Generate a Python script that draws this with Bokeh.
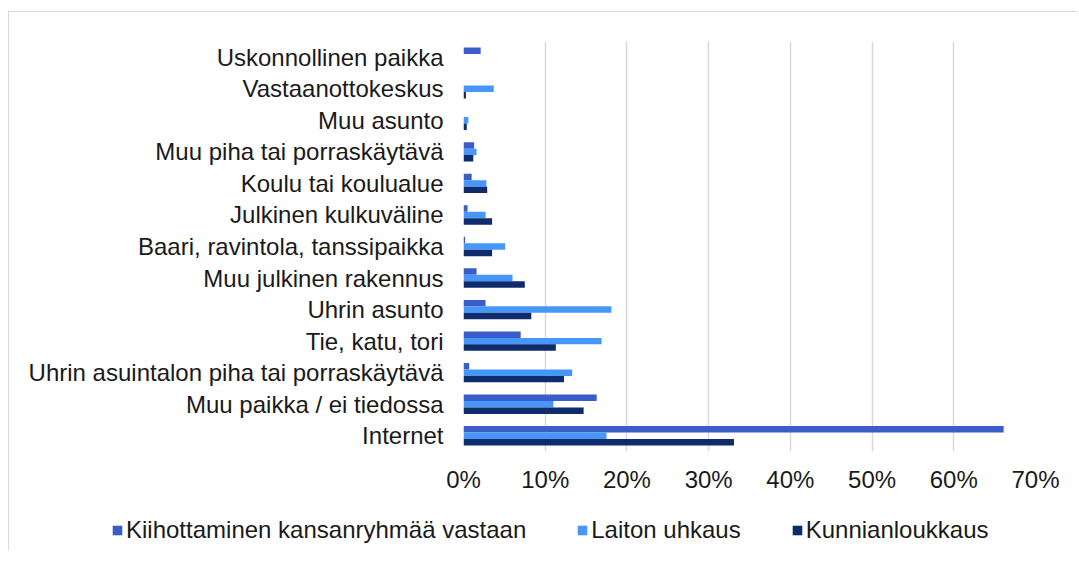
from bokeh.plotting import figure
from bokeh.layouts import column, row
from bokeh.models import FactorRange, NumeralTickFormatter, FixedTicker, Legend, LegendItem, ColumnDataSource
from bokeh.transform import dodge
from bokeh.embed import file_html
from bokeh.resources import INLINE

categories = [
    "Uskonnollinen paikka",
    "Vastaanottokeskus",
    "Muu asunto",
    "Muu piha tai porraskäytävä",
    "Koulu tai koulualue",
    "Julkinen kulkuväline",
    "Baari, ravintola, tanssipaikka",
    "Muu julkinen rakennus",
    "Uhrin asunto",
    "Tie, katu, tori",
    "Uhrin asuintalon piha tai porraskäytävä",
    "Muu paikka / ei tiedossa",
    "Internet",
]
kiihottaminen = [2.1, 0.0, 0.0, 1.3, 1.0, 0.5, 0.2, 1.6, 2.7, 7.0, 0.7, 16.3, 66.1]
laiton_uhkaus = [0.0, 3.7, 0.6, 1.6, 2.8, 2.7, 5.1, 6.0, 18.1, 16.9, 13.3, 11.0, 17.5]
kunnianloukkaus = [0.0, 0.3, 0.4, 1.2, 2.9, 3.5, 3.5, 7.5, 8.3, 11.3, 12.3, 14.7, 33.1]
series_names = ["Kiihottaminen kansanryhmää vastaan", "Laiton uhkaus", "Kunnianloukkaus"]
tick_values = [0, 0.1, 0.2, 0.3, 0.4, 0.5, 0.6, 0.7]

colors = ["#3B5DC9", "#4796FA", "#0E2B6B"]
text_color = "#1a1a1a"
font = "Liberation Sans"
fsize = "24px"

source = ColumnDataSource(dict(
    cat=categories,
    k=[v / 100 for v in kiihottaminen],
    l=[v / 100 for v in laiton_uhkaus],
    u=[v / 100 for v in kunnianloukkaus],
))

W = 1068
p = figure(
    width=W, height=488,
    y_range=FactorRange(*list(reversed(categories))),
    x_range=(0, 0.7),
    output_backend="svg", toolbar_location=None,
    min_border_left=454, min_border_right=42, min_border_top=29, min_border_bottom=49,
)
p.outline_line_color = None

bh = 0.205
fields = ["k", "l", "u"]
offsets = [bh, 0, -bh]
for f, off, c in zip(fields, offsets, colors):
    p.hbar(y=dodge("cat", off, range=p.y_range), right=f, left=0, height=bh, source=source,
           fill_color=c, line_color=None)

p.xaxis.ticker = FixedTicker(ticks=tick_values)
p.xaxis.formatter = NumeralTickFormatter(format="0%")
for ax in (p.xaxis, p.yaxis):
    ax.axis_line_color = None
    ax.major_tick_line_color = None
    ax.minor_tick_line_color = None
    ax.major_tick_out = 0
    ax.major_tick_in = 0
    ax.minor_tick_out = 0
    ax.major_label_text_font = font
    ax.major_label_text_font_size = fsize
    ax.major_label_text_color = text_color
p.xaxis.major_label_standoff = 14
p.yaxis.major_label_standoff = 20

p.ygrid.grid_line_color = None
p.xgrid.grid_line_color = "#d9d9d9"
p.xgrid.grid_line_width = 1.5

# legend strip (swatch renderers sit outside the visible range)
lg = figure(
    width=W, height=50, x_range=(0, 1), y_range=(0, 1),
    x_axis_type=None, y_axis_type=None,
    output_backend="svg", toolbar_location=None,
    min_border_left=0, min_border_right=0, min_border_top=0, min_border_bottom=0,
)
lg.outline_line_color = None
lg.grid.visible = False
dummy = []
for c in colors:
    dummy.append(lg.hbar(y=[-5], right=[0], left=0, height=0.1, fill_color=c, line_color=None))

legend = Legend(
    items=[LegendItem(label=series_names[i], renderers=[r]) for i, r in enumerate(dummy)],
    orientation="horizontal",
    location=(102, 6),
    glyph_width=12, glyph_height=12, label_standoff=3, spacing=50,
    label_text_font=font, label_text_font_size=fsize, label_text_color=text_color,
    label_height=24, padding=0, margin=0, border_line_color=None, background_fill_alpha=0,
)
lg.add_layout(legend, "center")

layout = column(p, row(lg, spacing=0), spacing=0, margin=(11, 0, 0, 8),
                styles={"border-left": "1.5px solid #d9d9d9", "border-top": "1.5px solid #d9d9d9"})

open("out.html", "w").write(file_html(layout, INLINE))
